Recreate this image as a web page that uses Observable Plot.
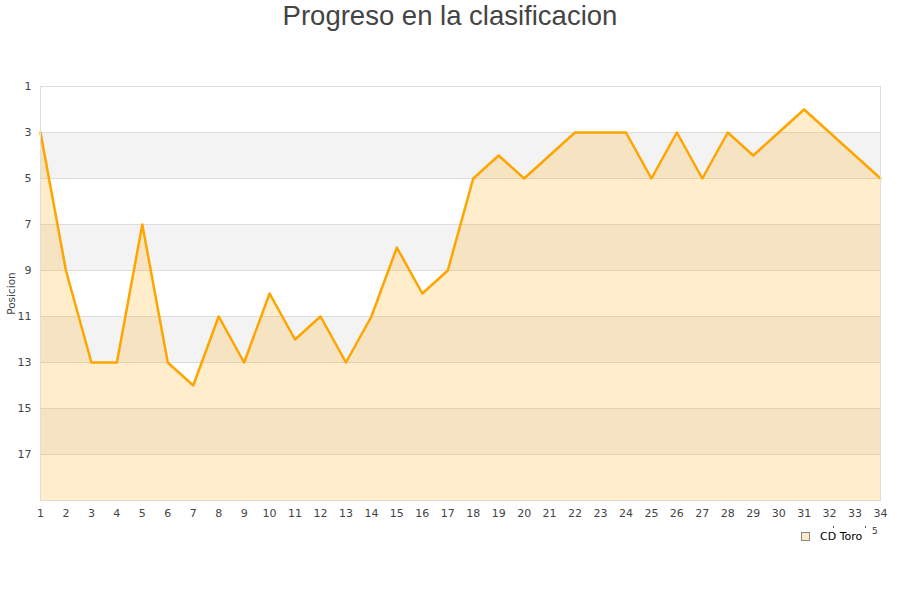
<!DOCTYPE html>
<html><head><meta charset="utf-8">
<script src="https://cdn.jsdelivr.net/npm/d3@7"></script>
<script src="https://cdn.jsdelivr.net/npm/@observablehq/plot@0.6"></script>
<style>
body{margin:0;background:#fff;}
#wrap{position:relative;width:900px;height:600px;overflow:hidden;}
#chart{position:absolute;left:0;top:0;}
#title{position:absolute;left:0;top:0;width:900px;text-align:center;font-family:"Liberation Sans",Arial,sans-serif;font-size:27.5px;color:#444;line-height:32px;z-index:2;}
#legend{position:absolute;left:801px;top:530px;font-family:"DejaVu Sans",sans-serif;font-size:11px;color:#000;display:flex;align-items:center;z-index:2;}
#legend .sw{width:7px;height:7px;background:#fde9c4;border:1px solid #888;margin-right:10px;}
#stray{position:absolute;left:872px;top:526px;font-family:"DejaVu Sans",sans-serif;font-size:9px;color:#333;z-index:2;}
.dot{position:absolute;width:1px;height:2px;background:#555;top:526px;z-index:2;}
</style></head>
<body><div id="wrap"><div id="chart"></div><div id="title">Progreso en la clasificacion</div>
<div id="legend"><div class="sw"></div><span>CD Toro</span></div><div id="stray">5</div>
<div class="dot" style="left:833px"></div><div class="dot" style="left:865px"></div></div>
<script>
const jornadas = d3.range(1, 35);
const posiciones = [3,9,13,13,7,13,14,11,13,10,12,11,13,11,8,10,9,5,4,5,4,3,3,3,5,3,5,3,4,3,2,3,4,5];
const yTicks = [1,3,5,7,9,11,13,15,17];
const bandStarts = [3,7,11,15];
const serie = "CD Toro";

const data = jornadas.map((j,i) => ({j, p: posiciones[i]}));
const bands = bandStarts.map(s => ({y1: s, y2: s + 2}));

const chart = Plot.plot({
  width: 900, height: 600,
  marginLeft: 40, marginRight: 20, marginTop: 86, marginBottom: 100,
  style: {fontFamily: "DejaVu Sans, sans-serif", fontSize: "11px", color: "#444", background: "transparent"},
  x: {domain: [1, 34], label: null},
  y: {domain: [19, 1], label: null},
  marks: [
    Plot.rect(bands, {y1: "y1", y2: "y2", fill: "#f3f3f3"}),
    Plot.ruleY(yTicks, {stroke: "#dddddd", strokeWidth: 1}),
    Plot.areaY(data, {x: "j", y1: () => 19, y2: "p", fill: "#ffa500", fillOpacity: 0.2}),
    Plot.line(data, {x: "j", y: "p", stroke: "#ffa500", strokeWidth: 2.5}),
    Plot.frame({stroke: "#dddddd"}),
    Plot.axisX({ticks: jornadas, tickFormat: d => d, tickSize: 0, tickPadding: 9, label: null}),
    Plot.axisY({ticks: yTicks, tickSize: 0, tickPadding: 9, label: null}),
    Plot.text([serie], {text: () => "Posicion", frameAnchor: "left", textAnchor: "middle", dx: -29, rotate: -90, fontSize: 10.5, fill: "#444"})
  ]
});
document.getElementById("chart").appendChild(chart);
</script></body></html>
